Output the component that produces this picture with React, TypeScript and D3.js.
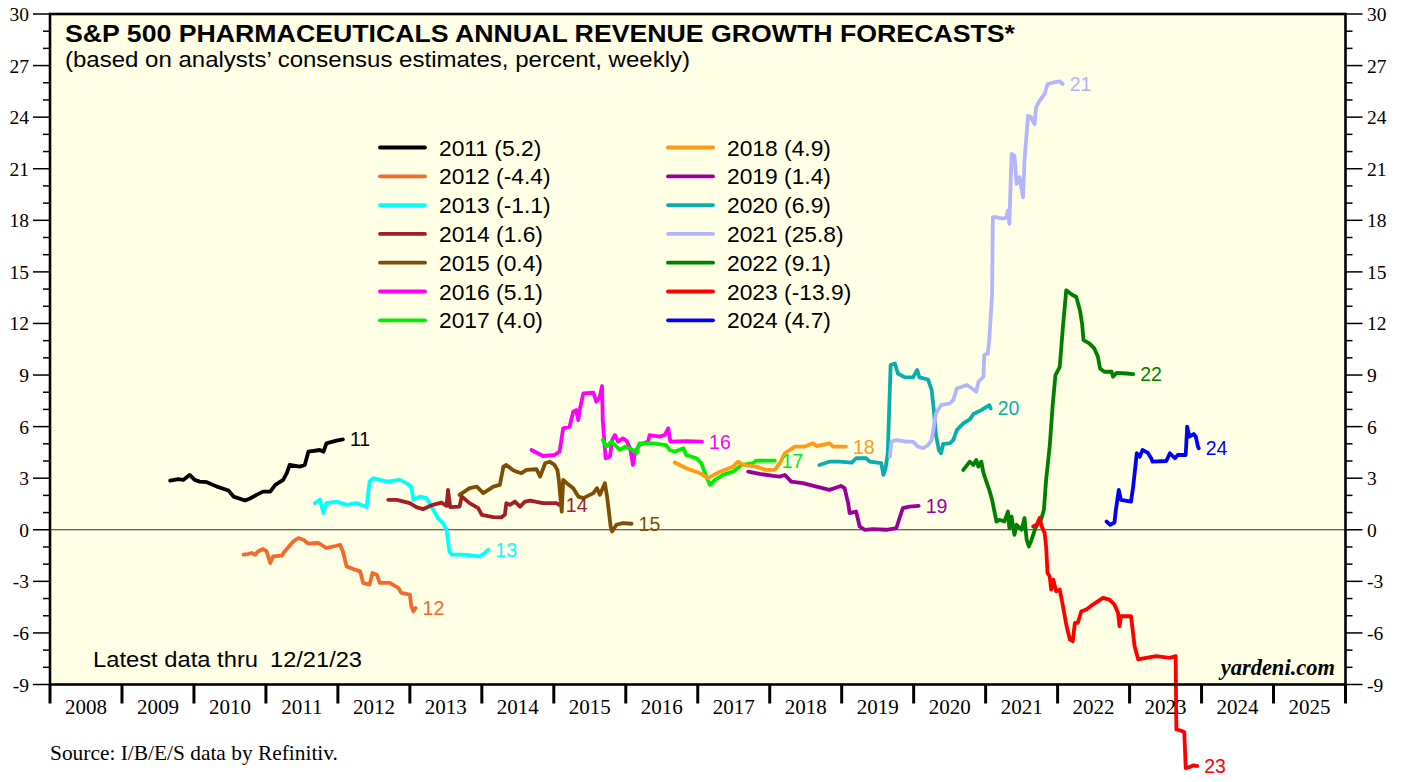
import React from "react";
import * as d3 from "d3";

const W = 1405;
const H = 782;
const PLOT = { left: 50, right: 1345.5, top: 14, bottom: 684.5 };

// axis values
const yearTicks = d3.range(2008, 2027);
const yearLabels = d3.range(2008, 2026);
const yMajor = d3.range(-9, 31, 3);
const yMinor = d3.range(-9, 31, 1);

// legend / series meta
const seriesNames = ["2011", "2012", "2013", "2014", "2015", "2016", "2017", "2018", "2019", "2020", "2021", "2022", "2023", "2024"];
const seriesFinals = ["5.2", "-4.4", "-1.1", "1.6", "0.4", "5.1", "4.0", "4.9", "1.4", "6.9", "25.8", "9.1", "-13.9", "4.7"];
const seriesColors = ["#000000", "#F36A2A", "#00FFFF", "#A01E24", "#7D4E04", "#FF00FF", "#00EE00", "#FF9A12", "#990099", "#0AADAD", "#B4B4FF", "#008000", "#FF0000", "#0000FF"];
const endLabels = ["11", "12", "13", "14", "15", "16", "17", "18", "19", "20", "21", "22", "23", "24"];

// [decimal year, forecast growth %]
const s2011: [number, number][] = [[2009.67,2.86],[2009.78,2.94],[2009.85,2.90],[2009.94,3.19],[2010.01,2.90],[2010.08,2.80],[2010.18,2.77],[2010.32,2.51],[2010.48,2.28],[2010.55,1.93],[2010.71,1.70],[2010.78,1.82],[2010.87,2.03],[2010.96,2.22],[2011.06,2.22],[2011.13,2.61],[2011.24,2.90],[2011.29,3.29],[2011.33,3.77],[2011.47,3.67],[2011.54,3.77],[2011.59,4.54],[2011.75,4.64],[2011.80,4.54],[2011.84,5.03],[2011.98,5.18],[2012.07,5.26]];
const s2012: [number, number][] = [[2010.69,-1.45],[2010.75,-1.41],[2010.80,-1.35],[2010.85,-1.45],[2010.89,-1.26],[2010.96,-1.12],[2011.01,-1.26],[2011.06,-1.93],[2011.10,-1.55],[2011.22,-1.51],[2011.26,-1.26],[2011.38,-0.68],[2011.45,-0.48],[2011.52,-0.58],[2011.59,-0.81],[2011.73,-0.77],[2011.84,-1.06],[2011.98,-0.93],[2012.03,-0.87],[2012.07,-1.26],[2012.12,-2.13],[2012.24,-2.32],[2012.31,-2.42],[2012.35,-3.09],[2012.44,-3.19],[2012.48,-2.51],[2012.54,-2.61],[2012.58,-3.09],[2012.72,-3.09],[2012.84,-3.38],[2012.88,-3.67],[2013.00,-3.77],[2013.02,-4.45],[2013.05,-4.74],[2013.08,-4.55]];
const s2013: [number, number][] = [[2011.68,1.55],[2011.75,1.74],[2011.80,0.97],[2011.84,1.55],[2011.98,1.64],[2012.12,1.45],[2012.26,1.55],[2012.40,1.32],[2012.44,2.80],[2012.49,3.00],[2012.68,2.80],[2012.86,2.90],[2012.95,2.71],[2013.02,2.51],[2013.05,1.74],[2013.14,1.93],[2013.23,1.84],[2013.30,1.35],[2013.39,0.68],[2013.46,0.39],[2013.51,0.0],[2013.55,-1.26],[2013.58,-1.45],[2013.74,-1.45],[2013.97,-1.55],[2014.04,-1.35],[2014.09,-1.16]];
const s2014: [number, number][] = [[2012.70,1.74],[2012.82,1.74],[2013.00,1.55],[2013.09,1.32],[2013.18,1.20],[2013.32,1.45],[2013.44,1.58],[2013.51,1.39],[2013.53,2.32],[2013.56,1.32],[2013.69,1.35],[2013.72,1.93],[2013.83,1.55],[2013.95,1.26],[2014.00,0.87],[2014.16,0.74],[2014.27,0.72],[2014.32,0.87],[2014.34,1.55],[2014.39,1.45],[2014.46,1.64],[2014.53,1.35],[2014.60,1.64],[2014.67,1.70],[2014.85,1.55],[2015.04,1.55],[2015.07,1.45]];
const s2015: [number, number][] = [[2013.69,2.03],[2013.83,2.42],[2013.93,2.51],[2014.02,2.13],[2014.16,2.51],[2014.25,2.61],[2014.30,3.67],[2014.34,3.77],[2014.43,3.48],[2014.48,3.38],[2014.55,3.29],[2014.62,3.48],[2014.76,3.52],[2014.81,3.09],[2014.88,3.87],[2014.94,3.96],[2015.01,3.77],[2015.05,3.48],[2015.07,2.90],[2015.11,1.06],[2015.13,2.90],[2015.18,2.71],[2015.27,2.42],[2015.34,1.93],[2015.41,1.84],[2015.55,2.13],[2015.60,2.42],[2015.64,2.03],[2015.71,2.71],[2015.74,1.93],[2015.79,0.19],[2015.81,-0.10],[2015.87,0.29],[2015.96,0.39],[2016.08,0.35]];
const s2016: [number, number][] = [[2014.69,4.64],[2014.85,4.29],[2015.01,4.35],[2015.08,4.54],[2015.13,5.90],[2015.22,6.00],[2015.27,6.87],[2015.31,6.96],[2015.34,6.38],[2015.36,6.96],[2015.41,7.93],[2015.55,7.97],[2015.59,7.45],[2015.64,7.74],[2015.67,8.36],[2015.68,6.38],[2015.72,4.16],[2015.78,4.25],[2015.81,5.22],[2015.85,5.51],[2015.89,5.13],[2015.96,5.32],[2016.01,5.18],[2016.06,4.74],[2016.10,3.77],[2016.13,4.54],[2016.19,4.93],[2016.31,5.13],[2016.33,5.51],[2016.47,5.42],[2016.54,5.51],[2016.59,5.90],[2016.62,5.13],[2016.84,5.16],[2017.06,5.13]];
const s2017: [number, number][] = [[2015.68,5.22],[2015.73,4.84],[2015.80,5.13],[2015.92,4.64],[2015.99,4.84],[2016.10,4.64],[2016.15,4.45],[2016.19,5.03],[2016.38,5.03],[2016.56,4.93],[2016.61,4.64],[2016.68,4.54],[2016.80,4.74],[2016.84,4.35],[2016.98,4.16],[2017.05,3.87],[2017.12,3.09],[2017.17,2.61],[2017.24,2.90],[2017.35,3.19],[2017.49,3.38],[2017.61,3.77],[2017.77,3.87],[2017.81,4.02],[2018.07,4.02]];
const s2018: [number, number][] = [[2016.68,3.91],[2016.84,3.58],[2017.03,3.29],[2017.14,3.00],[2017.31,3.38],[2017.49,3.67],[2017.56,3.96],[2017.63,3.77],[2017.81,3.67],[2017.95,3.48],[2018.07,3.48],[2018.14,3.87],[2018.21,4.45],[2018.35,4.84],[2018.49,4.84],[2018.60,5.03],[2018.65,4.87],[2018.83,5.03],[2018.88,4.84],[2019.06,4.84]];
const s2019: [number, number][] = [[2017.70,3.38],[2017.86,3.25],[2018.05,3.13],[2018.14,3.09],[2018.21,3.19],[2018.30,2.80],[2018.46,2.71],[2018.65,2.51],[2018.83,2.32],[2018.99,2.55],[2019.04,2.42],[2019.09,1.55],[2019.11,0.97],[2019.20,1.06],[2019.25,0.19],[2019.32,0.0],[2019.43,0.04],[2019.62,0.0],[2019.76,0.10],[2019.81,0.77],[2019.85,1.26],[2019.94,1.35],[2020.07,1.39]];
const s2020: [number, number][] = [[2018.69,3.77],[2018.83,3.96],[2018.97,3.96],[2019.14,3.91],[2019.20,4.16],[2019.34,4.16],[2019.39,3.96],[2019.55,3.87],[2019.58,3.19],[2019.61,3.58],[2019.64,4.45],[2019.68,9.58],[2019.74,9.67],[2019.78,9.09],[2019.88,8.86],[2019.99,8.86],[2020.05,9.29],[2020.08,8.86],[2020.20,8.74],[2020.25,8.13],[2020.28,6.96],[2020.31,5.51],[2020.35,4.64],[2020.38,4.45],[2020.41,4.99],[2020.50,5.03],[2020.55,5.22],[2020.60,5.80],[2020.69,6.19],[2020.78,6.42],[2020.83,6.73],[2020.94,6.96],[2021.05,7.25],[2021.07,7.06]];
const s2021: [number, number][] = [[2019.67,4.25],[2019.69,5.13],[2019.76,5.22],[2019.90,5.13],[2019.99,5.13],[2020.06,4.84],[2020.13,4.74],[2020.20,4.93],[2020.25,5.22],[2020.31,6.77],[2020.38,7.25],[2020.50,7.35],[2020.55,7.54],[2020.60,8.22],[2020.74,8.42],[2020.81,8.22],[2020.87,8.03],[2020.90,8.61],[2020.97,8.90],[2020.98,10.16],[2021.03,10.25],[2021.05,11.03],[2021.09,13.74],[2021.10,18.18],[2021.15,18.18],[2021.24,18.09],[2021.29,18.18],[2021.31,18.57],[2021.33,17.80],[2021.36,21.86],[2021.40,21.76],[2021.43,20.12],[2021.47,20.51],[2021.52,19.34],[2021.54,21.47],[2021.59,24.09],[2021.63,23.99],[2021.68,23.60],[2021.70,24.57],[2021.75,24.96],[2021.82,25.35],[2021.86,25.93],[2021.95,26.02],[2022.03,26.08],[2022.07,25.93]];
const s2022: [number, number][] = [[2020.69,3.48],[2020.78,3.96],[2020.83,3.77],[2020.87,4.06],[2020.90,3.67],[2020.94,3.96],[2020.97,3.29],[2021.01,2.80],[2021.05,2.32],[2021.09,1.74],[2021.15,0.48],[2021.19,0.58],[2021.26,0.48],[2021.31,1.06],[2021.33,0.10],[2021.36,0.77],[2021.40,-0.29],[2021.43,0.29],[2021.50,0.0],[2021.54,0.68],[2021.57,-0.58],[2021.60,-0.97],[2021.63,-0.68],[2021.70,0.19],[2021.77,0.58],[2021.81,1.16],[2021.84,2.90],[2021.89,4.84],[2021.93,7.16],[2021.97,9.00],[2022.03,9.48],[2022.07,11.61],[2022.12,13.93],[2022.19,13.70],[2022.26,13.54],[2022.31,12.77],[2022.34,12.00],[2022.36,11.03],[2022.44,10.84],[2022.51,10.55],[2022.56,10.06],[2022.59,9.38],[2022.65,9.19],[2022.75,9.19],[2022.77,8.90],[2022.82,9.13],[2022.96,9.09],[2023.05,9.05]];
const s2023: [number, number][] = [[2021.66,0.19],[2021.71,0.29],[2021.75,0.68],[2021.78,0.19],[2021.82,-0.19],[2021.84,-0.97],[2021.86,-2.51],[2021.89,-2.71],[2021.91,-3.48],[2021.94,-2.90],[2021.98,-3.58],[2022.03,-3.48],[2022.07,-4.35],[2022.12,-5.51],[2022.17,-6.38],[2022.21,-6.48],[2022.24,-5.42],[2022.28,-5.42],[2022.33,-4.74],[2022.40,-4.64],[2022.49,-4.35],[2022.63,-3.96],[2022.72,-4.06],[2022.79,-4.35],[2022.84,-4.84],[2022.86,-5.61],[2022.88,-5.03],[2023.02,-5.03],[2023.07,-6.77],[2023.12,-7.54],[2023.23,-7.45],[2023.37,-7.35],[2023.56,-7.45],[2023.64,-7.35],[2023.65,-11.61],[2023.72,-11.69],[2023.76,-11.78],[2023.78,-13.87],[2023.83,-13.81],[2023.89,-13.70],[2023.94,-13.75]];
const s2024: [number, number][] = [[2022.68,0.48],[2022.73,0.29],[2022.79,0.42],[2022.81,1.16],[2022.85,2.32],[2022.88,1.74],[2023.02,1.64],[2023.05,2.51],[2023.08,3.67],[2023.10,4.45],[2023.14,4.25],[2023.18,4.64],[2023.25,4.49],[2023.30,4.16],[2023.32,3.96],[2023.51,4.00],[2023.56,4.45],[2023.63,4.16],[2023.67,4.35],[2023.78,4.35],[2023.80,6.00],[2023.83,5.42],[2023.89,5.57],[2023.92,5.42],[2023.95,4.84],[2023.96,4.74]];

const seriesData = [s2011, s2012, s2013, s2014, s2015, s2016, s2017, s2018, s2019, s2020, s2021, s2022, s2023, s2024];

const SANS = "'Liberation Sans', Arial, sans-serif";
const SERIF = "'Liberation Serif', 'Times New Roman', serif";

export default function App() {
  const x = d3.scaleLinear().domain([2008, 2026]).range([PLOT.left, PLOT.right]);
  const y = d3.scaleLinear().domain([-9, 30]).range([PLOT.bottom, PLOT.top]);
  const line = d3
    .line<[number, number]>()
    .x((d) => x(d[0]))
    .y((d) => y(d[1]));

  const legendRowY = (i: number) => 147.5 + (i % 7) * 28.8;
  const legendColX = (i: number) => (i < 7 ? 380 : 668);

  return (
    <svg
      width={W}
      height={H}
      style={{ position: "absolute", left: 0, top: 0, background: "#fff" }}
    >
      <rect x={0} y={0} width={W} height={H} fill="#ffffff" />
      <rect
        x={PLOT.left}
        y={PLOT.top}
        width={PLOT.right - PLOT.left}
        height={PLOT.bottom - PLOT.top}
        fill="#FFFFE5"
      />
      {/* zero line */}
      <line x1={PLOT.left} x2={PLOT.right} y1={y(0)} y2={y(0)} stroke="#333" strokeWidth={1} />

      {/* titles */}
      <text
        x={65}
        y={42}
        fontFamily={SANS}
        fontWeight="bold"
        fontSize={24}
        textLength={950}
        lengthAdjust="spacingAndGlyphs"
        fill="#000"
      >
        S&amp;P 500 PHARMACEUTICALS ANNUAL REVENUE GROWTH FORECASTS*
      </text>
      <text
        x={65}
        y={67}
        fontFamily={SANS}
        fontSize={22}
        textLength={625}
        lengthAdjust="spacingAndGlyphs"
        fill="#000"
      >
        (based on analysts’ consensus estimates, percent, weekly)
      </text>

      {/* legend */}
      {seriesNames.map((n, i) => (
        <g key={"lg" + n}>
          <line
            x1={legendColX(i)}
            x2={legendColX(i) + 45}
            y1={legendRowY(i)}
            y2={legendRowY(i)}
            stroke={seriesColors[i]}
            strokeWidth={3.8}
            strokeLinecap="round"
          />
          <text
            x={legendColX(i) + 59}
            y={legendRowY(i) + 8}
            fontFamily={SANS}
            fontSize={22.8}
            fill="#000"
          >
            {n} ({seriesFinals[i]})
          </text>
        </g>
      ))}

      <text x={93} y={667} fontFamily={SANS} fontSize={22} textLength={165} lengthAdjust="spacingAndGlyphs" fill="#000">
        Latest data thru
      </text>
      <text x={270} y={667} fontFamily={SANS} fontSize={22} textLength={92} lengthAdjust="spacingAndGlyphs" fill="#000">
        12/21/23
      </text>
      <text
        x={1335}
        y={675}
        textAnchor="end"
        fontFamily={SERIF}
        fontWeight="bold"
        fontStyle="italic"
        fontSize={22.5}
        fill="#000"
      >
        yardeni.com
      </text>

      {/* series */}
      {seriesData.map((d, i) => (
        <path
          key={"s" + i}
          d={line(d) || ""}
          fill="none"
          stroke={seriesColors[i]}
          strokeWidth={3.8}
          strokeLinejoin="round"
          strokeLinecap="round"
        />
      ))}
      {seriesData.map((d, i) => {
        const last = d[d.length - 1];
        return (
          <text
            key={"el" + i}
            x={x(last[0]) + 7}
            y={y(last[1]) + 7}
            fontFamily={SANS}
            fontSize={19.5}
            fill={seriesColors[i]}
          >
            {endLabels[i]}
          </text>
        );
      })}

      {/* frame */}
      <rect
        x={PLOT.left}
        y={PLOT.top}
        width={PLOT.right - PLOT.left}
        height={PLOT.bottom - PLOT.top}
        fill="none"
        stroke="#000"
        strokeWidth={2.6}
      />

      {/* y ticks */}
      {yMinor.map((v) => {
        const major = v % 3 === 0;
        return (
          <g key={"yt" + v}>
            <line x1={PLOT.left - (major ? 17 : 7)} x2={PLOT.left} y1={y(v)} y2={y(v)} stroke="#000" strokeWidth={1.5} />
            <line x1={PLOT.right} x2={PLOT.right + (major ? 17 : 7)} y1={y(v)} y2={y(v)} stroke="#000" strokeWidth={1.5} />
          </g>
        );
      })}
      {yMajor.map((v) => (
        <g key={"yl" + v}>
          <text x={29} y={y(v) + 7} textAnchor="end" fontFamily={SERIF} fontSize={19.5} fill="#000">
            {v}
          </text>
          <text x={1367} y={y(v) + 7} textAnchor="start" fontFamily={SERIF} fontSize={19.5} fill="#000">
            {v}
          </text>
        </g>
      ))}

      {/* x ticks */}
      {yearTicks.map((yr) => (
        <line
          key={"xt" + yr}
          x1={x(yr)}
          x2={x(yr)}
          y1={PLOT.bottom}
          y2={PLOT.bottom + 19}
          stroke="#000"
          strokeWidth={3}
        />
      ))}
      {yearLabels.map((yr) => (
        <text
          key={"xl" + yr}
          x={x(yr + 0.5)}
          y={714}
          textAnchor="middle"
          fontFamily={SERIF}
          fontSize={21}
          fill="#000"
        >
          {yr}
        </text>
      ))}

      <text x={50} y={760} fontFamily={SERIF} fontSize={21.4} fill="#000">
        Source: I/B/E/S data by Refinitiv.
      </text>
    </svg>
  );
}
